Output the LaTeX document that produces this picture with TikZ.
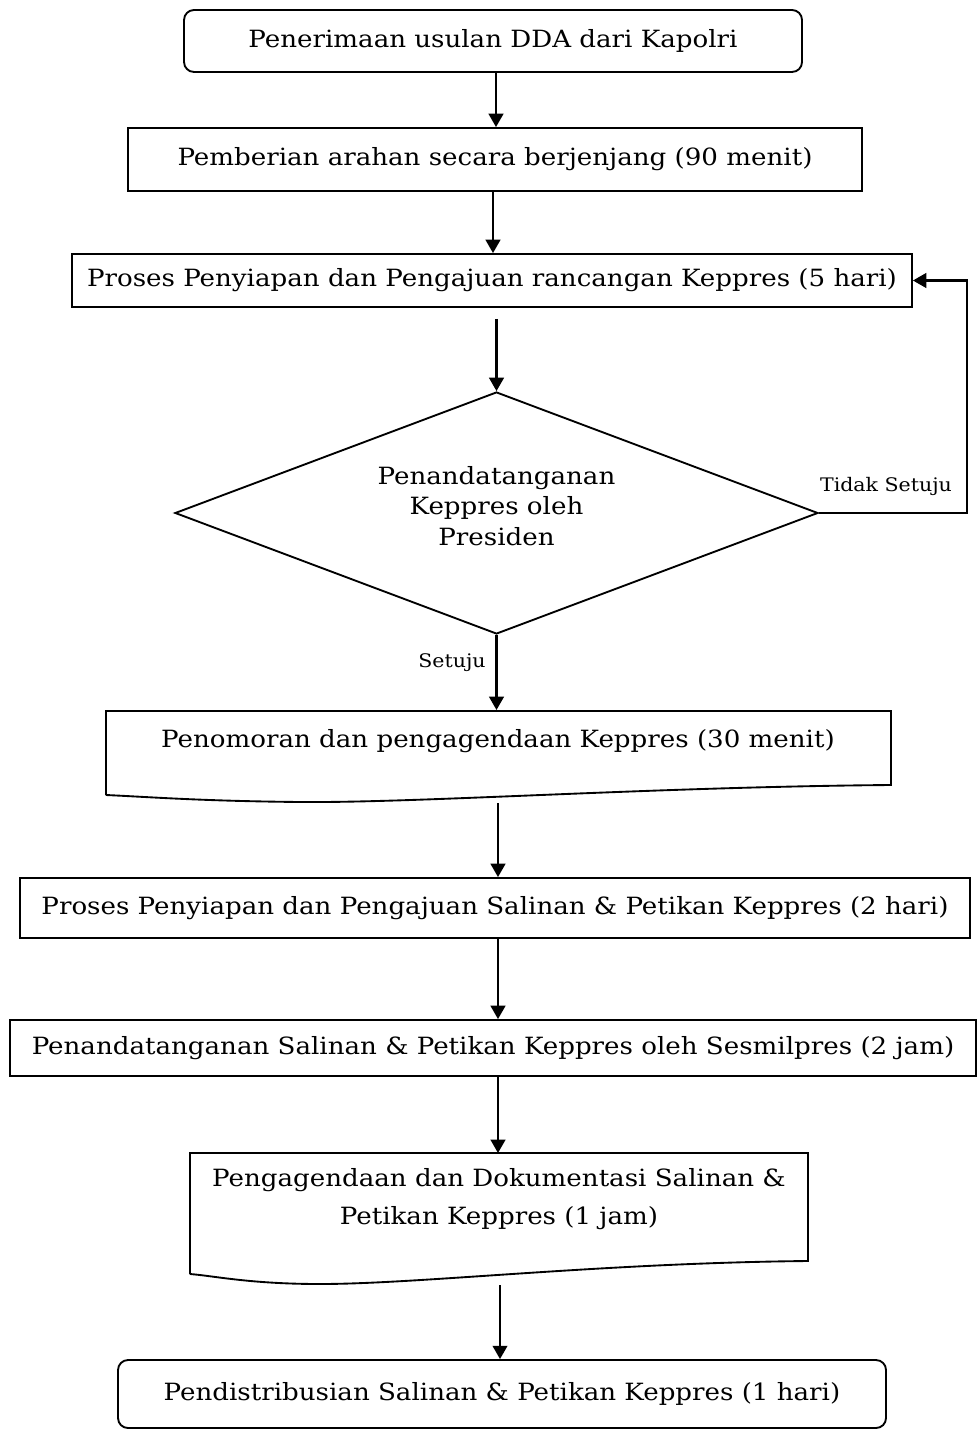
\documentclass[tikz,border=0pt]{standalone}
\usepackage{fontspec}
\setmainfont[FakeStretch=1.1]{DejaVu Serif}
\usetikzlibrary{arrows.meta,shapes.geometric}
\begin{document}
\begin{tikzpicture}[x=0.75pt,y=-0.75pt,
  bx/.style 2 args={draw, line width=1.4pt, minimum width=#1*0.75pt, minimum height=#2*0.75pt, inner sep=0pt, align=center},
  rbx/.style 2 args={bx={#1}{#2}, rounded corners=7.5pt},
  arr/.style={line width=1.6pt, -{Triangle[length=10pt,width=11pt]}},
  every node/.style={font=\fontsize{17.8}{23}\selectfont},
  lbl/.style={font=\fontsize{14}{17}\selectfont, inner sep=0pt},
  shp/.style={draw, line width=1.4pt}]
\useasboundingbox (0,0) rectangle (977,1430);

\node[rbx={618}{62}] (b1) at (493,41) {Penerimaan usulan DDA dari Kapolri};
\node[bx={734}{63}] (b2) at (495,159.5) {Pemberian arahan secara berjenjang (90 menit)};
\node[bx={840}{53}] (b3) at (492,280.5) {Proses Penyiapan dan Pengajuan rancangan Keppres (5 hari)};

\node[draw, line width=1.4pt, diamond, shape aspect=2.66, minimum width=643*0.75pt, minimum height=242*0.75pt, inner sep=0pt] (dec) at (496.5,513) {};
\node[align=center, font=\fontsize{17.8}{23}\selectfont] (dect) at (496.5,506) {Penandatanganan\\Keppres oleh\\Presiden};

% document 1
\node (doc1) at (498,741) {Penomoran dan pengagendaan Keppres (30 menit)};
\coordinate (d1tl) at (106,711);
\coordinate (d1tr) at (891,711);
\coordinate (d1br) at (891,785);
\coordinate (d1bl) at (106,795);
\draw[shp] (d1bl) -- (d1tl) -- (d1tr) -- (d1br)
  .. controls (650,787) and (420,803) .. (300,802)
  .. controls (200,801) and (150,797) .. (d1bl);
\coordinate (d1out) at (498,803);

\node[bx={950}{60}] (b6) at (495,908) {Proses Penyiapan dan Pengajuan Salinan \& Petikan Keppres (2 hari)};
\node[bx={966}{56}] (b7) at (493,1048) {Penandatanganan Salinan \& Petikan Keppres oleh Sesmilpres (2 jam)};

% document 2
\node[align=center, font=\fontsize{17.8}{29}\selectfont] (doc2) at (499,1199) {Pengagendaan dan Dokumentasi Salinan \&\\Petikan Keppres (1 jam)};
\coordinate (d2tl) at (190,1153);
\coordinate (d2tr) at (808,1153);
\coordinate (d2br) at (808,1261);
\coordinate (d2bl) at (190,1274);
\draw[shp] (d2bl) -- (d2tl) -- (d2tr) -- (d2br)
  .. controls (600,1263) and (420,1284) .. (320,1284)
  .. controls (250,1284) and (215,1276) .. (d2bl);
\coordinate (d2out) at (500,1285);

\node[rbx={768}{68}] (b9) at (502,1394) {Pendistribusian Salinan \& Petikan Keppres (1 hari)};

% connectors
\draw[arr] (496,0 |- b1.south) -- (496,0 |- b2.north);
\draw[arr] (493,0 |- b2.south) -- (493,0 |- b3.north);
\draw[arr, shorten <=8.25pt] (496.5,0 |- b3.south) -- (dec.north);
\draw[arr] (dec.south) -- (496.5,710);
\draw[arr] (d1out) -- (498,0 |- b6.north);
\draw[arr] (498,0 |- b6.south) -- (498,0 |- b7.north);
\draw[arr] (498,0 |- b7.south) -- (498,1153);
\draw[arr] (d2out) -- (500,0 |- b9.north);

\draw[arr] (dec.east) -- (967,0 |- dec.east) |- (b3.east);
\node[lbl] (tl) at (886,486) {Tidak Setuju};
\node[lbl] (sl) at (452,663) {Setuju};
\end{tikzpicture}
\end{document}
